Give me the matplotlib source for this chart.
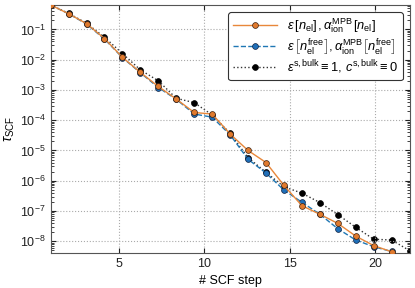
import numpy as np
import matplotlib
matplotlib.use("Agg")
import matplotlib.pyplot as plt

plt.rcParams['font.family'] = ['Liberation Sans', 'DejaVu Sans']
plt.rcParams['mathtext.fontset'] = 'custom'
plt.rcParams['mathtext.rm'] = 'Liberation Sans'
plt.rcParams['mathtext.it'] = 'Liberation Sans:italic'
plt.rcParams['mathtext.bf'] = 'Liberation Sans:bold'

# residual per SCF step
tau_nel = [0.64, 0.33, 0.155, 0.050, 0.0120, 0.0038, 0.0013, 5.0e-4, 1.8e-4, 1.6e-4,
           3.5e-5, 1.0e-5, 4.0e-6, 7.0e-7, 1.5e-7, 7.8e-8, 3.9e-8, 1.48e-8, 7.2e-9, 4.5e-9]
tau_free = [0.64, 0.33, 0.150, 0.048, 0.0117, 0.0037, 0.0012, 4.9e-4, 1.6e-4, 1.26e-4,
            3.3e-5, 5.1e-6, 1.8e-6, 4.9e-7, 1.95e-7, 7.8e-8, 2.6e-8, 1.1e-8, 6.6e-9, 4.6e-9]
tau_vac = [0.64, 0.34, 0.16, 0.055, 0.016, 0.0046, 0.0020, 5.3e-4, 3.8e-4, 1.5e-4,
           3.7e-5, 5.8e-6, 1.9e-6, 6.3e-7, 3.9e-7, 1.9e-7, 7.6e-8, 2.9e-8, 1.17e-8, 1.1e-8, 4.9e-9]

labels = [r'$\varepsilon\,[n_{\rm el}]\,,\alpha^{\rm MPB}_{\rm ion}\,[n_{\rm el}]$',
          r'$\varepsilon\,\left[n^{\rm free}_{\rm el}\right],\alpha^{\rm MPB}_{\rm ion}\left[n^{\rm free}_{\rm el}\right]$',
          r'$\varepsilon^{\rm s,bulk}\equiv 1,\, c^{\rm s,bulk}\equiv 0$']

def xpos(n):
    # the steps were drawn stretched over the 1..22 axis
    steps = np.arange(1, n + 1)
    return 1 + (steps - 1) * 21.0 / 20.0

fig = plt.figure(figsize=(4.15, 2.88), dpi=100)
ax = fig.add_axes([0.122, 0.1226, 0.865, 0.86])

ax.semilogy(xpos(len(tau_nel)), tau_nel, '-o', color='#E8873A', lw=1.0, ms=4.2,
            mfc='#E07A2E', mec='#3a2010', mew=0.5, label=labels[0], zorder=3)
ax.semilogy(xpos(len(tau_free)), tau_free, '--o', color='#1f77b4', lw=1.0, ms=4.2,
            mfc='#1f6fb8', mec='#102040', mew=0.5, label=labels[1], zorder=2)
ax.semilogy(xpos(len(tau_vac)), tau_vac, ':o', color='#333333', lw=1.0, ms=4.2,
            mfc='black', mec='black', mew=0.5, label=labels[2], zorder=1)

ax.set_xlim(1, 22)
ax.set_ylim(4.2e-9, 0.64)
ax.set_xticks([5, 10, 15, 20])
ax.set_yticks([10.0**k for k in range(-8, 0)])
ax.grid(True, which='major', ls=':', color='#aaaaaa', lw=0.8)
ax.tick_params(which='both', direction='in', top=True, right=True, labelsize=9, colors='#222222')
ax.tick_params(which='major', length=3.5)
ax.tick_params(which='minor', length=2)
for s in ax.spines.values():
    s.set_color('#555555')
    s.set_linewidth(0.8)

ax.set_xlabel('# SCF step', fontsize=9)
ax.set_ylabel(r'$\tau_{\rm SCF}$', fontsize=10)
ax.yaxis.set_label_coords(-0.094, 0.5)

leg = ax.legend(loc='upper right', fontsize=9.3, frameon=True, fancybox=True,
                handlelength=3.4, borderpad=0.35, labelspacing=0.12, borderaxespad=0.55)
leg.get_frame().set_edgecolor('#333333')
leg.get_frame().set_linewidth(0.8)
leg.get_frame().set_alpha(1.0)

fig.savefig('out.png', dpi=100)
